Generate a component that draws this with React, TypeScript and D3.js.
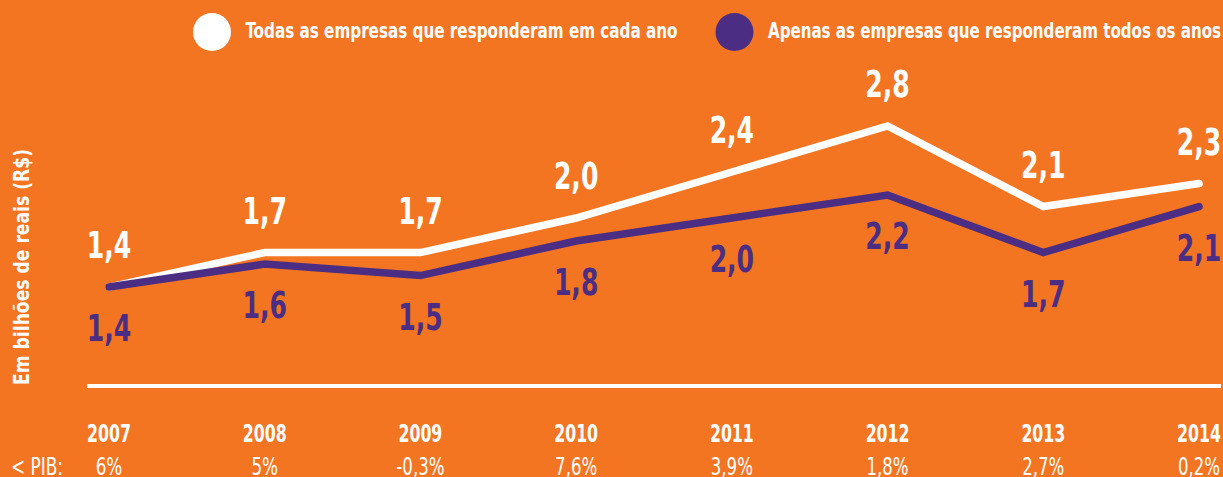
import React, { useEffect } from "react";
import * as d3 from "d3";

const years = ["2007", "2008", "2009", "2010", "2011", "2012", "2013", "2014"];
const todasValues = [1.4, 1.7, 1.7, 2.0, 2.4, 2.8, 2.1, 2.3];
const apenasValues = [1.4, 1.6, 1.5, 1.8, 2.0, 2.2, 1.7, 2.1];
const pibLabels = ["6%", "5%", "-0,3%", "7,6%", "3,9%", "1,8%", "2,7%", "0,2%"];
const pibPrefix = "< PIB:";
const legendTodas = "Todas as empresas que responderam em cada ano";
const legendApenas = "Apenas as empresas que responderam todos os anos";
const yTitle = "Em bilhões de reais (R$)";

const W = 1223;
const H = 477;
const ORANGE = "#F37521";
const PURPLE = "#4B2E83";
const WHITE = "#FFFFFF";
const FONT = "'Liberation Sans Narrow', 'DejaVu Sans Condensed', 'Arial Narrow', sans-serif";

const fmt = (v: number) => v.toFixed(1).replace(".", ",");

// approximate advance widths (em) of a narrow condensed face, used to fit text width
const narrowEm = (s: string) => {
  let w = 0;
  for (const c of s) {
    if (/[0-9]/.test(c)) w += 0.456;
    else if (c === "," || c === "." || c === " ") w += 0.228;
    else if (c === "%") w += 0.729;
    else if (c === "-") w += 0.273;
    else w += 0.5;
  }
  return w;
};

export default function App() {
  useEffect(() => {
    document.body.style.margin = "0";
  }, []);

  const x = d3.scalePoint<string>().domain(years).range([109, 1199]);
  const y = d3.scaleLinear().domain([0.54, 2.8]).range([386, 126]);

  const line = d3
    .line<number>()
    .x((_, i) => x(years[i]) as number)
    .y((d) => y(d));

  const valueLabel = (v: number, i: number, color: string, yy: number, key: string) => {
    const s = fmt(v);
    return (
      <text
        key={key}
        x={x(years[i]) as number}
        y={yy}
        fill={color}
        fontSize={37}
        fontWeight="bold"
        textAnchor="middle"
        textLength={narrowEm(s) * 39}
        lengthAdjust="spacingAndGlyphs"
      >
        {s}
      </text>
    );
  };

  return (
    <svg
      width={W}
      height={H}
      style={{ position: "absolute", left: 0, top: 0, display: "block" }}
      fontFamily={FONT}
    >
      <rect x={0} y={0} width={W} height={H} fill={ORANGE} />

      {/* legend */}
      <circle cx={212} cy={32} r={19} fill={WHITE} />
      <text
        x={245.5}
        y={38}
        fill={WHITE}
        fontSize={22}
        fontWeight="bold"
        textLength={432}
        lengthAdjust="spacingAndGlyphs"
      >
        {legendTodas}
      </text>
      <circle cx={734.5} cy={32} r={19} fill={PURPLE} />
      <text
        x={768}
        y={38}
        fill={WHITE}
        fontSize={22}
        fontWeight="bold"
        textLength={453}
        lengthAdjust="spacingAndGlyphs"
      >
        {legendApenas}
      </text>

      {/* y title */}
      <text
        transform={`translate(29,385) rotate(-90)`}
        fill={WHITE}
        fontSize={21}
        fontWeight="bold"
        textAnchor="start"
        textLength={236}
        lengthAdjust="spacingAndGlyphs"
      >
        {yTitle}
      </text>

      {/* baseline */}
      <line x1={87} x2={1221} y1={y(0.54)} y2={y(0.54)} stroke={WHITE} strokeWidth={4} />

      {/* lines */}
      <path
        d={line(todasValues) || ""}
        fill="none"
        stroke={WHITE}
        strokeWidth={7.5}
        strokeLinecap="round"
        strokeLinejoin="miter"
      />
      <path
        d={line(apenasValues) || ""}
        fill="none"
        stroke={PURPLE}
        strokeWidth={7.5}
        strokeLinecap="round"
        strokeLinejoin="miter"
      />

      {/* value labels */}
      {todasValues.map((v, i) => valueLabel(v, i, WHITE, y(v) - 29, "t" + i))}
      {apenasValues.map((v, i) => valueLabel(v, i, PURPLE, y(v) + 54, "a" + i))}

      {/* year labels */}
      {years.map((yr) => (
        <text
          key={yr}
          x={x(yr) as number}
          y={442}
          fill={WHITE}
          fontSize={24}
          fontWeight="bold"
          textAnchor="middle"
          textLength={narrowEm(yr) * 24}
          lengthAdjust="spacingAndGlyphs"
        >
          {yr}
        </text>
      ))}

      {/* PIB row */}
      <text
        x={11}
        y={475}
        fill={WHITE}
        fontSize={24}
        textAnchor="start"
        textLength={52}
        lengthAdjust="spacingAndGlyphs"
      >
        {pibPrefix}
      </text>
      {pibLabels.map((p, i) => (
        <text
          key={"p" + i}
          x={x(years[i]) as number}
          y={475}
          fill={WHITE}
          fontSize={24}
          textAnchor="middle"
          textLength={narrowEm(p) * 22.5}
          lengthAdjust="spacingAndGlyphs"
        >
          {p}
        </text>
      ))}
    </svg>
  );
}
